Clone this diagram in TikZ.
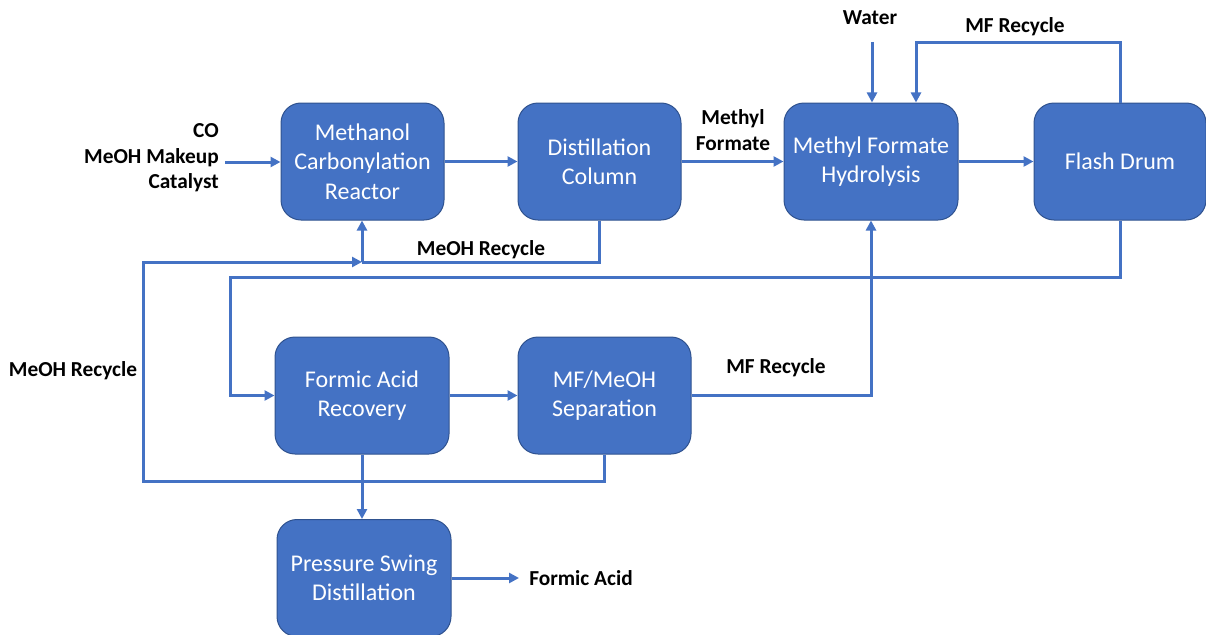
\documentclass[tikz,border=0pt]{standalone}
\usepackage{fontspec}
\setmainfont{Carlito}
\usetikzlibrary{arrows.meta}
\definecolor{boxblue}{HTML}{4472C4}
\definecolor{boxedge}{HTML}{2F528F}
\tikzset{
  unit/.style={rectangle, rounded corners=15pt, fill=boxblue, draw=boxedge, line width=0.75pt,
    text=white, align=center, font=\fontsize{18}{22}\selectfont,
    minimum height=117*0.75pt, inner sep=0pt},
  lbl/.style={font=\bfseries\fontsize{16}{19.5}\selectfont, text=black, inner sep=0pt},
  flow/.style={draw=boxblue, line width=2.25pt},
  arr/.style={flow, -{Triangle[length=7.5pt,width=7.5pt]}}
}
\begin{document}
\begin{tikzpicture}[x=0.75pt,y=-0.75pt]
\useasboundingbox (0,0) rectangle (1206,635);
% units
\node[unit, minimum width=163*0.75pt] (reactor) at (362.5,161.5) {Methanol\\Carbonylation\\Reactor};
\node[unit, minimum width=163*0.75pt] (column) at (599.5,161.5) {Distillation\\Column};
\node[unit, minimum width=174*0.75pt] (hydro) at (871,161.5) {Methyl Formate\\Hydrolysis};
\node[unit, minimum width=172*0.75pt] (flash) at (1120,161.5) {Flash Drum};
\node[unit, minimum width=174*0.75pt] (recovery) at (362,395.5) {Formic Acid\\Recovery};
\node[unit, minimum width=173*0.75pt] (sep) at (604.5,395.5) {MF/MeOH\\Separation};
\node[unit, minimum width=174*0.75pt] (psd) at (364,578) {Pressure Swing\\Distillation};
% helper coordinates
\coordinate (feedin) at (225,162);
\coordinate (water) at (872,42);
\coordinate (mftop) at (916,43);
\coordinate (lp) at (230,277);
\coordinate (j1) at (362,262);
\coordinate (lb) at (143,481);
\coordinate (faend) at (519,578);
% labels
\node[lbl, align=right, anchor=east, font=\bfseries\fontsize{16}{19}\selectfont] (feedlbl) at (219,158) {CO\\MeOH Makeup\\Catalyst};
\node[lbl, align=center, font=\bfseries\fontsize{16}{19.5}\selectfont] (mflbl) at (733,130) {Methyl\\Formate};
\node[lbl] (mrec1) at (481,250) {MeOH Recycle};
\node[lbl] (waterlbl) at (870,18) {Water};
\node[lbl] (mfrec1) at (1015,27) {MF Recycle};
\node[lbl] (mrec2) at (73,371) {MeOH Recycle};
\node[lbl] (mfrec2) at (776,368) {MF Recycle};
\node[lbl, anchor=west] (falbl) at (529,578) {Formic Acid};
% connectors
\draw[arr] (feedin) -- (feedin -| reactor.west);
\draw[arr] (reactor) -- (column);
\draw[arr] (column) -- (hydro);
\draw[arr] (hydro) -- (flash);
\draw[arr] (water) -- (water |- hydro.north);
\draw[arr] (flash.north) |- (mftop) -- (mftop |- hydro.north);
\draw[arr] (flash.south) |- (lp) |- (recovery.west);
\draw[flow] (column.south) |- (j1);
\draw[arr] (j1) -- (j1 |- reactor.south);
\draw[arr] (sep.south) |- (lb) |- (j1);
\draw[arr] (recovery) -- (sep);
\draw[arr] (sep.east) -| (hydro.south);
\draw[arr] (recovery.south) -- (recovery.south |- psd.north);
\draw[arr] (psd.east |- faend) -- (faend);
\end{tikzpicture}
\end{document}
